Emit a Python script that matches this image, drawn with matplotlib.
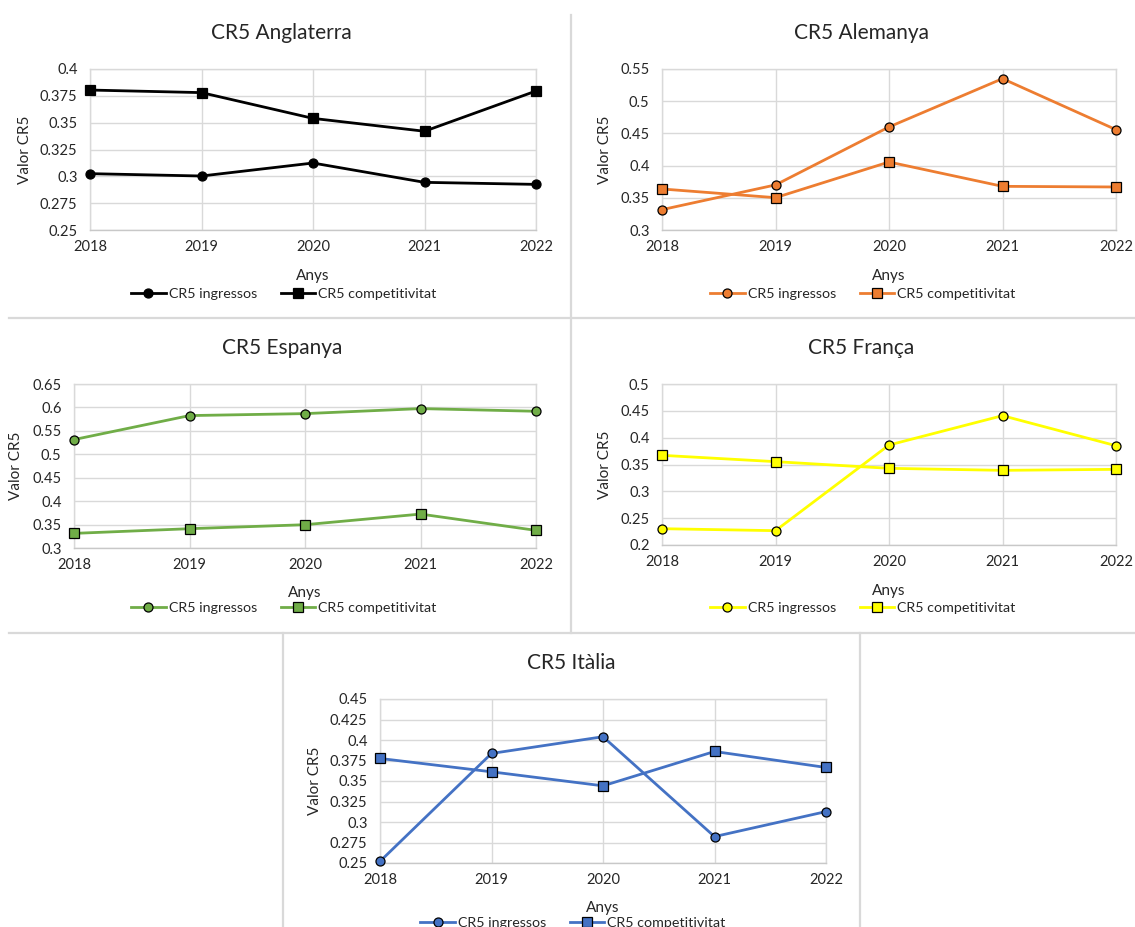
import matplotlib
matplotlib.use("Agg")
import matplotlib.pyplot as plt
from matplotlib.lines import Line2D
from matplotlib.ticker import FuncFormatter, MultipleLocator

plt.rcParams['font.family'] = ['Lato', 'DejaVu Sans']

years = [2018, 2019, 2020, 2021, 2022]

titles = ["CR5 Anglaterra", "CR5 Alemanya", "CR5 Espanya", "CR5 França", "CR5 Itàlia"]
ingressos_angl = [0.3025, 0.3003, 0.3124, 0.2944, 0.2925]
competit_angl = [0.3804, 0.3780, 0.3540, 0.3420, 0.3795]
ingressos_alem = [0.3316, 0.3700, 0.4600, 0.5350, 0.4558]
competit_alem = [0.3637, 0.3502, 0.4056, 0.3678, 0.3668]
ingressos_esp = [0.5314, 0.5826, 0.5868, 0.5975, 0.5918]
competit_esp = [0.3312, 0.3412, 0.3497, 0.3724, 0.3376]
ingressos_fra = [0.2304, 0.2267, 0.3863, 0.4410, 0.3850]
competit_fra = [0.3671, 0.3553, 0.3429, 0.3391, 0.3410]
ingressos_ita = [0.2520, 0.3836, 0.4040, 0.2822, 0.3127]
competit_ita = [0.3775, 0.3612, 0.3441, 0.3860, 0.3665]

ylims = [(0.25, 0.4, 0.025), (0.3, 0.55, 0.05), (0.3, 0.65, 0.05), (0.2, 0.5, 0.05), (0.25, 0.45, 0.025)]
colors = ["#000000", "#ED7D31", "#70AD47", "#FFFF00", "#4472C4"]
series_names = ["CR5 ingressos", "CR5 competitivitat"]

W, H = 1135, 927
fig = plt.figure(figsize=(W / 100, H / 100), dpi=100)

def fx(px):
    return px / W

def fy(py):
    return 1 - py / H

# pixel boxes: left, top, right, bottom
boxes = [(90, 69, 536, 230), (662, 69, 1116, 230), (74, 384, 536, 548),
         (662, 384, 1116, 545), (380, 699, 826, 863)]
title_pos = [(281, 33), (861, 33), (282, 348), (861, 348), (571, 663)]
ylabel_x = [25, 605, 16, 605, 315]
anys_y = [276, 276, 593, 591, 908]
legend_pos = [(284, 294), (863, 294), (284, 608), (863, 608), (573, 923)]

data = [(ingressos_angl, competit_angl), (ingressos_alem, competit_alem),
        (ingressos_esp, competit_esp), (ingressos_fra, competit_fra),
        (ingressos_ita, competit_ita)]

def fmt(v, pos):
    s = ("%.3f" % v).rstrip('0').rstrip('.')
    return s

grid_c = "#D9D9D9"
for i in range(5):
    l, t, r, b = boxes[i]
    ax = fig.add_axes([fx(l), fy(b), fx(r) - fx(l), fy(t) - fy(b)])
    ing, comp = data[i]
    c = colors[i]
    ax.plot(years, ing, color=c, lw=2.0, marker='o', ms=6.5, mfc=c, mec='black',
            mew=0.9, clip_on=False, zorder=3, label=series_names[0])
    ax.plot(years, comp, color=c, lw=2.0, marker='s', ms=6.5, mfc=c, mec='black',
            mew=0.9, clip_on=False, zorder=3, label=series_names[1])
    lo, hi, st = ylims[i]
    ax.set_xlim(2018, 2022)
    ax.set_ylim(lo, hi)
    ax.set_xticks(years)
    ax.yaxis.set_major_locator(MultipleLocator(st))
    ax.yaxis.set_major_formatter(FuncFormatter(fmt))
    ax.grid(True, color=grid_c, lw=1.0, zorder=0)
    ax.set_axisbelow(True)
    for sp in ax.spines.values():
        sp.set_color(grid_c)
        sp.set_linewidth(1.0)
    ax.spines['bottom'].set_color("#C8C8C8")
    ax.tick_params(length=0, labelsize=10.5, colors='#404040', labelcolor='#262626')
    ax.tick_params(axis='y', pad=9)
    ax.tick_params(axis='x', pad=7)
    fig.text(fx(title_pos[i][0]), fy(title_pos[i][1]), titles[i], ha='center', va='center',
             fontsize=15, color='#262626')
    ax.set_ylabel("Valor CR5", fontsize=11, color='#262626')
    ax.yaxis.label.set_verticalalignment('center')
    ax.yaxis.set_label_coords(fx(ylabel_x[i]), fy((t + b) / 2), transform=fig.transFigure)
    ax.set_xlabel("Anys", fontsize=11, color='#262626')
    ax.xaxis.label.set_verticalalignment('center')
    ax.xaxis.set_label_coords(fx((l + r) / 2), fy(anys_y[i]), transform=fig.transFigure)
    lg = ax.legend(loc='center', bbox_to_anchor=(fx(legend_pos[i][0]), fy(legend_pos[i][1])),
                   bbox_transform=fig.transFigure, ncol=2, frameon=False, fontsize=10.3,
                   handlelength=2.4, handletextpad=0.2, columnspacing=1.7,
                   borderpad=0, borderaxespad=0)
    for txt in lg.get_texts():
        txt.set_color('#262626')

sep_c = "#D9D9D9"
def seg(x0, y0, x1, y1):
    fig.add_artist(Line2D([fx(x0), fx(x1)], [fy(y0), fy(y1)], color=sep_c, lw=1.6,
                          transform=fig.transFigure))

seg(9, 318, 1135, 318)
seg(571, 15, 571, 633)
seg(9, 633, 1135, 633)
seg(283, 633, 283, 927)
seg(860, 633, 860, 927)

fig.savefig("out.png", dpi=100, facecolor='white')
